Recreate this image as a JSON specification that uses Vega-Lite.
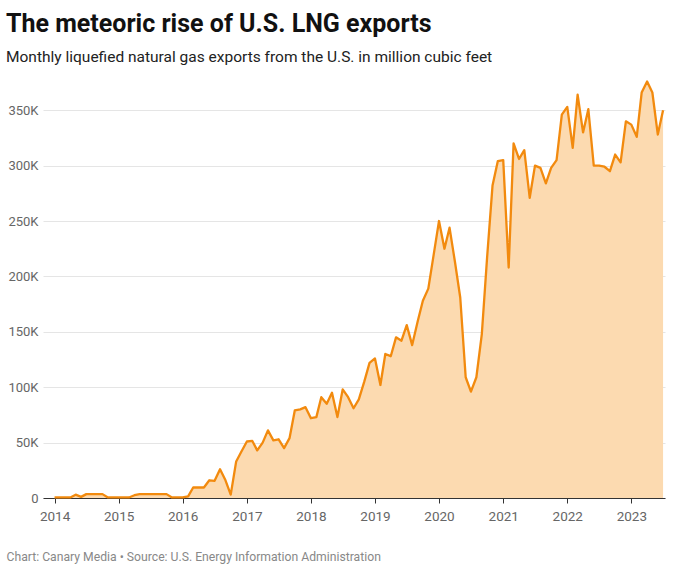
{
  "$schema": "https://vega.github.io/schema/vega-lite/v6.json",
  "autosize": {"type": "none"},
  "padding": {"left": 43, "top": 77, "right": 15, "bottom": 71},
  "width": 622,
  "height": 421,
  "background": "white",
  "title": {
    "text": "The meteoric rise of U.S. LNG exports",
    "subtitle": "Monthly liquefied natural gas exports from the U.S. in million cubic feet",
    "anchor": "start",
    "frame": "group",
    "dx": -37,
    "offset": 12,
    "font": "Roboto",
    "fontSize": 25,
    "fontWeight": "bold",
    "color": "#111111",
    "subtitleFont": "Roboto",
    "subtitleFontSize": 15.5,
    "subtitleColor": "#222222",
    "subtitlePadding": 13
  },
  "config": {
    "font": "Roboto",
    "view": {"stroke": null}
  },
  "data": {
    "values": [
      {"date": "2014-01-01", "value": 500},
      {"date": "2014-02-01", "value": 500},
      {"date": "2014-03-01", "value": 500},
      {"date": "2014-04-01", "value": 500},
      {"date": "2014-05-01", "value": 3000},
      {"date": "2014-06-01", "value": 1000},
      {"date": "2014-07-01", "value": 3500},
      {"date": "2014-08-01", "value": 3500},
      {"date": "2014-09-01", "value": 3500},
      {"date": "2014-10-01", "value": 3500},
      {"date": "2014-11-01", "value": 500},
      {"date": "2014-12-01", "value": 500},
      {"date": "2015-01-01", "value": 500},
      {"date": "2015-02-01", "value": 500},
      {"date": "2015-03-01", "value": 500},
      {"date": "2015-04-01", "value": 2500},
      {"date": "2015-05-01", "value": 3500},
      {"date": "2015-06-01", "value": 3500},
      {"date": "2015-07-01", "value": 3500},
      {"date": "2015-08-01", "value": 3500},
      {"date": "2015-09-01", "value": 3500},
      {"date": "2015-10-01", "value": 3500},
      {"date": "2015-11-01", "value": 500},
      {"date": "2015-12-01", "value": 500},
      {"date": "2016-01-01", "value": 500},
      {"date": "2016-02-01", "value": 1500},
      {"date": "2016-03-01", "value": 9500},
      {"date": "2016-04-01", "value": 9500},
      {"date": "2016-05-01", "value": 9500},
      {"date": "2016-06-01", "value": 16000},
      {"date": "2016-07-01", "value": 15500},
      {"date": "2016-08-01", "value": 26000},
      {"date": "2016-09-01", "value": 16000},
      {"date": "2016-10-01", "value": 3000},
      {"date": "2016-11-01", "value": 33000},
      {"date": "2016-12-01", "value": 42000},
      {"date": "2017-01-01", "value": 51000},
      {"date": "2017-02-01", "value": 51500},
      {"date": "2017-03-01", "value": 43000},
      {"date": "2017-04-01", "value": 50000},
      {"date": "2017-05-01", "value": 61000},
      {"date": "2017-06-01", "value": 52000},
      {"date": "2017-07-01", "value": 53000},
      {"date": "2017-08-01", "value": 45000},
      {"date": "2017-09-01", "value": 54000},
      {"date": "2017-10-01", "value": 79000},
      {"date": "2017-11-01", "value": 80000},
      {"date": "2017-12-01", "value": 82000},
      {"date": "2018-01-01", "value": 72000},
      {"date": "2018-02-01", "value": 73000},
      {"date": "2018-03-01", "value": 91000},
      {"date": "2018-04-01", "value": 85000},
      {"date": "2018-05-01", "value": 95000},
      {"date": "2018-06-01", "value": 73000},
      {"date": "2018-07-01", "value": 98000},
      {"date": "2018-08-01", "value": 91000},
      {"date": "2018-09-01", "value": 81000},
      {"date": "2018-10-01", "value": 89000},
      {"date": "2018-11-01", "value": 105000},
      {"date": "2018-12-01", "value": 122000},
      {"date": "2019-01-01", "value": 126000},
      {"date": "2019-02-01", "value": 102000},
      {"date": "2019-03-01", "value": 130000},
      {"date": "2019-04-01", "value": 128000},
      {"date": "2019-05-01", "value": 145000},
      {"date": "2019-06-01", "value": 142000},
      {"date": "2019-07-01", "value": 156000},
      {"date": "2019-08-01", "value": 138000},
      {"date": "2019-09-01", "value": 159000},
      {"date": "2019-10-01", "value": 178000},
      {"date": "2019-11-01", "value": 189000},
      {"date": "2019-12-01", "value": 219000},
      {"date": "2020-01-01", "value": 250000},
      {"date": "2020-02-01", "value": 225000},
      {"date": "2020-03-01", "value": 244000},
      {"date": "2020-04-01", "value": 213000},
      {"date": "2020-05-01", "value": 181000},
      {"date": "2020-06-01", "value": 109000},
      {"date": "2020-07-01", "value": 96000},
      {"date": "2020-08-01", "value": 109000},
      {"date": "2020-09-01", "value": 148000},
      {"date": "2020-10-01", "value": 217000},
      {"date": "2020-11-01", "value": 282000},
      {"date": "2020-12-01", "value": 304000},
      {"date": "2021-01-01", "value": 305000},
      {"date": "2021-02-01", "value": 208000},
      {"date": "2021-03-01", "value": 320000},
      {"date": "2021-04-01", "value": 306000},
      {"date": "2021-05-01", "value": 314000},
      {"date": "2021-06-01", "value": 271000},
      {"date": "2021-07-01", "value": 300000},
      {"date": "2021-08-01", "value": 298000},
      {"date": "2021-09-01", "value": 284000},
      {"date": "2021-10-01", "value": 298000},
      {"date": "2021-11-01", "value": 305000},
      {"date": "2021-12-01", "value": 346000},
      {"date": "2022-01-01", "value": 353000},
      {"date": "2022-02-01", "value": 316000},
      {"date": "2022-03-01", "value": 364000},
      {"date": "2022-04-01", "value": 330000},
      {"date": "2022-05-01", "value": 351000},
      {"date": "2022-06-01", "value": 300000},
      {"date": "2022-07-01", "value": 300000},
      {"date": "2022-08-01", "value": 299000},
      {"date": "2022-09-01", "value": 295000},
      {"date": "2022-10-01", "value": 310000},
      {"date": "2022-11-01", "value": 303000},
      {"date": "2022-12-01", "value": 340000},
      {"date": "2023-01-01", "value": 337000},
      {"date": "2023-02-01", "value": 326000},
      {"date": "2023-03-01", "value": 366000},
      {"date": "2023-04-01", "value": 376000},
      {"date": "2023-05-01", "value": 366000},
      {"date": "2023-06-01", "value": 328000},
      {"date": "2023-07-01", "value": 350000}
    ]
  },
  "encoding": {
    "x": {
      "field": "date",
      "type": "temporal",
      "scale": {
        "type": "utc",
        "domain": [
          {"year": 2013, "month": 10, "date": 27, "utc": true},
          {"year": 2023, "month": 7, "date": 12, "utc": true}
        ]
      },
      "axis": {
        "title": "Chart: Canary Media • Source: U.S. Energy Information Administration",
        "titleX": -37,
        "titleY": 62,
        "titleAlign": "left",
        "titleAnchor": "start",
        "titleBaseline": "alphabetic",
        "titleFont": "Roboto",
        "titleFontSize": 12.2,
        "titleFontWeight": "normal",
        "titleColor": "#888888",
        "values": [
          {"year": 2014, "utc": true}, {"year": 2015, "utc": true},
          {"year": 2016, "utc": true}, {"year": 2017, "utc": true},
          {"year": 2018, "utc": true}, {"year": 2019, "utc": true},
          {"year": 2020, "utc": true}, {"year": 2021, "utc": true},
          {"year": 2022, "utc": true}, {"year": 2023, "utc": true}
        ],
        "format": "%Y",
        "grid": false,
        "domain": true,
        "domainColor": "#333333",
        "domainWidth": 1,
        "ticks": true,
        "tickColor": "#333333",
        "tickSize": 5,
        "labelFont": "Roboto",
        "labelFontSize": 13.5,
        "labelColor": "#666666",
        "labelPadding": 6
      }
    },
    "y": {
      "field": "value",
      "type": "quantitative",
      "scale": {"domain": [0, 380000], "nice": false},
      "axis": {
        "title": null,
        "values": [0, 50000, 100000, 150000, 200000, 250000, 300000, 350000],
        "labelExpr": "datum.value == 0 ? '0' : (datum.value / 1000) + 'K'",
        "domain": false,
        "ticks": false,
        "grid": true,
        "gridColor": "#e5e5e5",
        "gridWidth": 1,
        "labelFont": "Roboto",
        "labelFontSize": 13,
        "labelColor": "#666666",
        "labelPadding": 5
      }
    }
  },
  "layer": [
    {"mark": {"type": "area", "color": "#fcdab0", "opacity": 1}},
    {"mark": {"type": "line", "color": "#f28a0e", "strokeWidth": 2.3, "strokeJoin": "round"}}
  ]
}
